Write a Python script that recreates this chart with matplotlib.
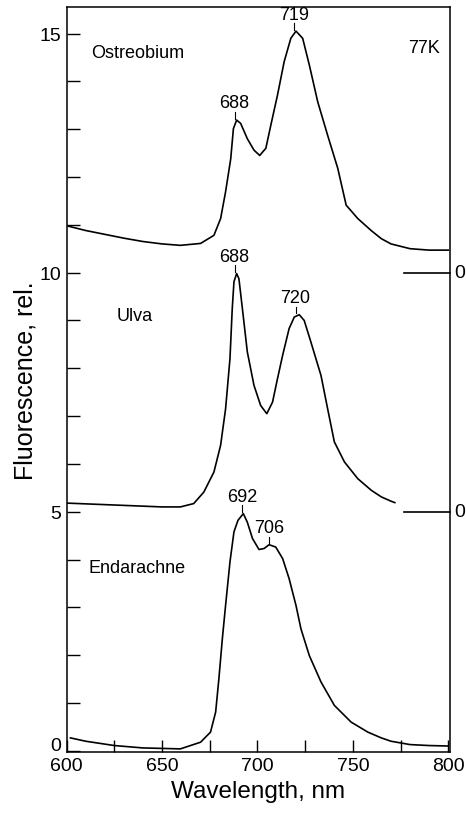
import matplotlib
matplotlib.use('Agg')
from matplotlib import pyplot as plt
from matplotlib.ticker import MultipleLocator

plt.rcParams['font.family'] = ['Liberation Sans', 'DejaVu Sans']

# Ostreobium (offset 10)
wl_ost = [600, 610, 620, 630, 640, 650, 659.6, 670.2, 677.2, 680.7, 683.3, 686, 687.4, 689.1, 691.2,
          694.7, 698.2, 701.2, 704.4, 707, 710.5, 714, 717.5, 720.2, 723.7, 727.2, 731.6, 736.8,
          742.1, 746.5, 752.6, 759.6, 764.9, 770, 780, 790, 800]
fl_ost = [10.98, 10.88, 10.8, 10.72, 10.65, 10.6, 10.57, 10.61, 10.78, 11.13, 11.69, 12.38, 13.01,
          13.19, 13.12, 12.8, 12.56, 12.45, 12.6, 13.08, 13.71, 14.41, 14.9, 15.05, 14.9, 14.34,
          13.57, 12.87, 12.18, 11.41, 11.13, 10.88, 10.71, 10.6, 10.5, 10.47, 10.47]

# Ulva (offset 5)
wl_ulva = [600, 625, 650, 659.6, 666.6, 671.9, 677.2, 680.7, 683.3, 685.6, 686.8, 687.7, 689.1,
           690.3, 692.1, 694.7, 698.2, 701.7, 704.9, 707.9, 710.5, 713.2, 716.6, 719.3, 721.9,
           724.5, 728, 733.3, 736.8, 740.3, 745.6, 752.6, 759.6, 764.9, 770, 772]
fl_ulva = [5.18, 5.14, 5.1, 5.1, 5.17, 5.41, 5.83, 6.39, 7.15, 8.2, 9.25, 9.81, 9.98, 9.87, 9.25,
           8.34, 7.64, 7.22, 7.05, 7.29, 7.78, 8.27, 8.83, 9.07, 9.12, 9.0, 8.55, 7.85, 7.15, 6.46,
           6.04, 5.69, 5.45, 5.31, 5.22, 5.19]

# Endarachne (offset 0)
wl_end = [602, 610, 625, 640, 650, 659.6, 670.2, 675.4, 678.1, 679.8, 681.6, 683.3, 685.6, 687.7,
          689.8, 692.6, 694.7, 697.4, 700.8, 703.5, 706.1, 709.6, 713.2, 716.6, 720.2, 722.8,
          727.2, 733.3, 740.3, 749.1, 757.9, 764.9, 770, 780, 790, 800]
fl_end = [0.27, 0.2, 0.11, 0.06, 0.05, 0.04, 0.18, 0.39, 0.81, 1.51, 2.34, 3.04, 3.95, 4.58, 4.82,
          4.96, 4.78, 4.44, 4.21, 4.23, 4.31, 4.26, 4.02, 3.6, 3.04, 2.55, 1.99, 1.44, 0.95, 0.6,
          0.39, 0.27, 0.2, 0.13, 0.11, 0.1]

# peak labels: (wavelength, height)
peaks = [(688, 13.19), (719, 15.05), (688, 9.98), (720, 9.12), (692, 4.96), (706, 4.31)]
names = ['Ostreobium', 'Ulva', 'Endarachne']
name_pos = [(613, 14.6), (626, 9.1), (611.5, 3.83)]
zero_levels = [10, 5]
yticks = [0, 5, 10, 15]

fig = plt.figure(figsize=(4.66, 8.2), dpi=100)
ax = fig.add_axes([0.143, 0.082, 0.823, 0.908])

ax.plot(wl_ost, fl_ost, color='black', lw=1.2)
ax.plot(wl_ulva, fl_ulva, color='black', lw=1.2)
ax.plot(wl_end, fl_end, color='black', lw=1.2)

for w, h in peaks:
    ax.plot([w, w], [h + 0.03, h + 0.17], color='black', lw=0.8)
    ax.text(w, h + 0.18, str(w), ha='center', va='bottom', fontsize=13)

for (x, y), n in zip(name_pos, names):
    ax.text(x, y, n, ha='left', va='center', fontsize=13)
ax.text(779, 14.7, '77K', ha='left', va='center', fontsize=13)

for z in zero_levels:
    ax.plot([777, 801], [z, z], color='black', lw=1.2, clip_on=False)
    ax.text(803, z, '0', ha='left', va='center', fontsize=14)

ax.set_xlim(600, 801)
ax.set_ylim(-0.02, 15.55)
ax.xaxis.set_major_locator(MultipleLocator(50))
ax.xaxis.set_minor_locator(MultipleLocator(25))
ax.set_yticks(yticks)
# the "0" at the origin sits a bit higher, clear of "600"
ax.set_yticklabels([''] + [str(t) for t in yticks[1:]])
ax.annotate('0', xy=(0, yticks[0]), xycoords=('axes fraction', 'data'), xytext=(-4, 4),
            textcoords='offset points', ha='right', va='center', fontsize=14)
ax.yaxis.set_minor_locator(MultipleLocator(1))
ax.tick_params(which='both', direction='in', top=False, right=False, labelsize=14, width=1)
ax.tick_params(which='both', length=9)
ax.tick_params(axis='y', pad=4)
ax.tick_params(axis='x', pad=4)
for s in ax.spines.values():
    s.set_linewidth(1.1)

ax.set_xlabel('Wavelength, nm', fontsize=17.5, labelpad=4)
ax.set_ylabel('Fluorescence, rel.', fontsize=18, labelpad=1)

fig.savefig('out.png', dpi=100)
